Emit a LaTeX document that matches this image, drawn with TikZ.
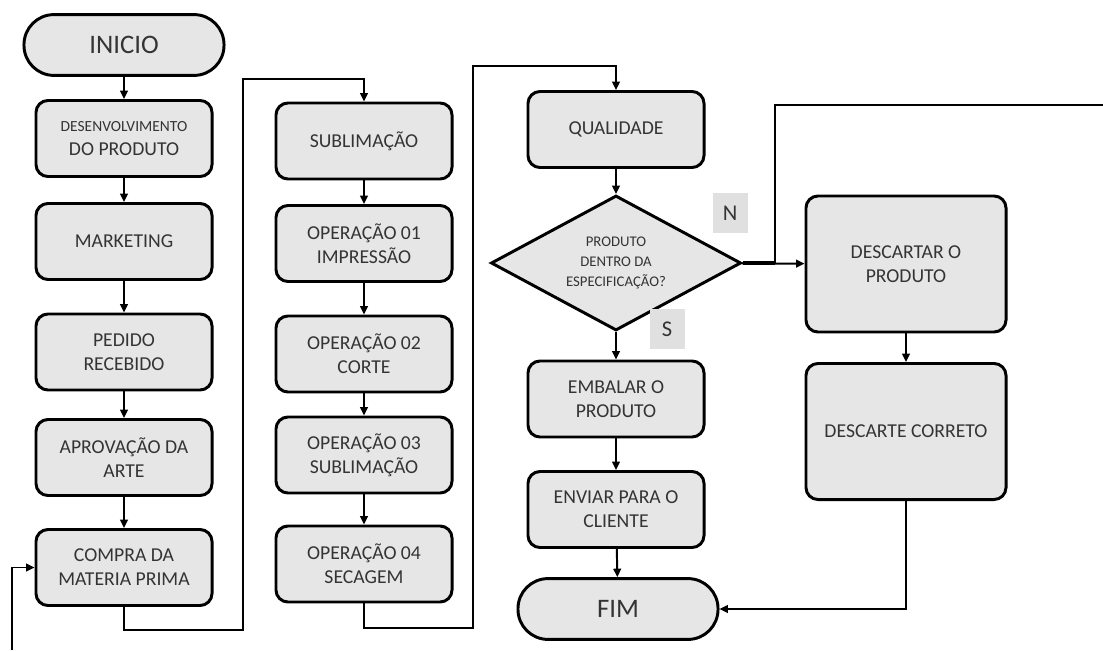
\documentclass[tikz,border=0pt]{standalone}
\usepackage{fontspec}
\setmainfont{Carlito}
\usetikzlibrary{arrows.meta, shapes.geometric}
\definecolor{boxfill}{RGB}{230, 230, 230}
\definecolor{boxtext}{RGB}{52, 52, 52}
\definecolor{flagfill}{RGB}{224, 224, 224}

\tikzset{
    procbox/.style={draw=black, line width=2.1pt, fill=boxfill, rounded corners=0.3cm,
        minimum width=4.4cm, minimum height=1.9cm, inner sep=0pt, align=center,
        text=boxtext, font=\fontsize{14}{17}\selectfont},
    bigbox/.style={procbox, minimum width=5cm, minimum height=3.4cm},
    termbox/.style={procbox, rounded corners=0.75cm, minimum width=5cm, minimum height=1.52cm,
        font=\fontsize{19}{22}\selectfont},
    decbox/.style={draw=black, line width=2.1pt, fill=boxfill, diamond, aspect=1.85,
        minimum width=6.25cm, minimum height=3.375cm, inner sep=0pt, align=center,
        text=boxtext, font=\fontsize{10.5}{14}\selectfont},
    flag/.style={fill=flagfill, minimum width=0.875cm, minimum height=1cm, inner sep=0pt,
        text=boxtext, font=\fontsize{16}{18}\selectfont},
    arr/.style={line width=1.4pt, -{Triangle[length=6pt, width=5.5pt]}},
    wire/.style={line width=1.4pt}
}

\begin{document}
\begin{tikzpicture}[x=0.025cm, y=-0.025cm]
        \useasboundingbox (0,0) rectangle (1103,650);

        \node[termbox] (inicio) at (124,45) {INICIO};
        \node[procbox] (desenv) at (124,138.5) {{\fontsize{11}{16}\selectfont DESENVOLVIMENTO}\\DO PRODUTO};
        \node[procbox] (mkt)    at (124,241.5) {MARKETING};
        \node[procbox] (pedido) at (124,352)   {PEDIDO\\RECEBIDO};
        \node[procbox] (aprov)  at (124,457.5) {APROVAÇÃO DA\\ARTE};
        \node[procbox] (compra) at (124,567.5) {COMPRA DA\\MATERIA PRIMA};

        \node[procbox] (subl) at (364,141)   {SUBLIMAÇÃO};
        \node[procbox] (op1)  at (364,243.5) {OPERAÇÃO 01\\IMPRESSÃO};
        \node[procbox] (op2)  at (364,354)   {OPERAÇÃO 02\\CORTE};
        \node[procbox] (op3)  at (364,455)   {OPERAÇÃO 03\\SUBLIMAÇÃO};
        \node[procbox] (op4)  at (364,564)   {OPERAÇÃO 04\\SECAGEM};

        \node[procbox] (qual)   at (616,129.5) {QUALIDADE};
        \node[decbox]  (spec)   at (616,263)   {PRODUTO\\DENTRO DA\\ESPECIFICAÇÃO?};
        \node[procbox] (embalar) at (616,399)  {EMBALAR O\\PRODUTO};
        \node[procbox] (enviar) at (616,509.5) {ENVIAR PARA O\\CLIENTE};
        \node[termbox] (fim)    at (618,609)   {FIM};

        \node[bigbox] (descartar) at (906,264)   {DESCARTAR O\\PRODUTO};
        \node[bigbox] (correto)   at (906,431.5) {DESCARTE CORRETO};

        \node[flag] (no)  at (730,213) {N};
        \node[flag] (yes) at (667,329) {S};

        \foreach \a/\b in {inicio/desenv, desenv/mkt, mkt/pedido, pedido/aprov, aprov/compra,
                           subl/op1, op1/op2, op2/op3, op3/op4,
                           qual/spec, spec/embalar, embalar/enviar, enviar/fim,
                           descartar/correto, spec/descartar}
            \draw[arr] (\a) -- (\b);

        \draw[arr] (compra.south) |- (243,630) -- (243,79) -| (subl.north);
        \draw[arr] (op4.south) |- (473,628) -- (473,66) -| (qual.north);
        \draw[arr] (correto.south) |- (fim.east);

        \coordinate (feed) at (12,650);
        \draw[arr] (feed) |- (compra.west);

        \coordinate (split) at (775,263);
        \coordinate (exit) at (1103,105);
        \draw[wire] (split) |- (exit);
        \draw[line width=2.4pt] (spec.east) -- (split);
    \end{tikzpicture}
\end{document}
